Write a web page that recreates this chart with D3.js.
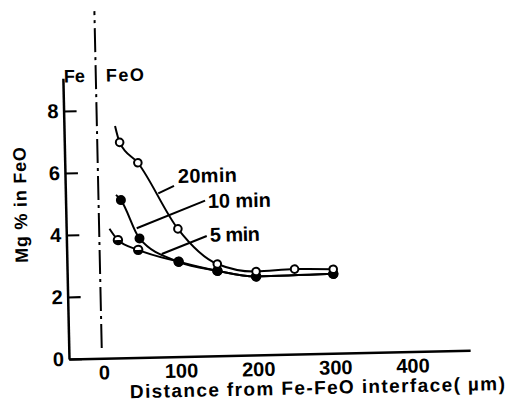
<!DOCTYPE html>
<html><head><meta charset="utf-8">
<script src="https://cdn.jsdelivr.net/npm/d3@7"></script>
<style>body{margin:0;background:#fff}svg{display:block}</style>
</head><body><svg id="c" width="510" height="403"></svg>
<script>
// ---- data ----
const xTicks = [0, 100, 200, 300, 400];
const yTicks = [0, 2, 4, 6, 8];
const dist20 = [27, 50, 100, 150, 200, 250, 300];
const mg20   = [6.95, 6.28, 4.12, 2.96, 2.69, 2.74, 2.71];
const dist10 = [27, 50, 100, 150, 200, 300];
const mg10   = [5.09, 3.84, 3.06, 2.74, 2.53, 2.56];
const dist5  = [22, 48, 100, 150, 200, 300];
const mg5    = [3.80, 3.47, 3.06, 2.74, 2.53, 2.56];
const curveStart20 = [21.5, 7.48];
const curveStart10 = [20.8, 5.26];
const curveStart5  = [11.4, 4.17];
const seriesLabels = ["20min", "10 min", "5 min"];
const xTitle = "Distance from Fe-FeO interface( µm)";
const yTitle = "Mg % in FeO";
const phaseLabels = ["Fe", "FeO"];
const xDomain = [-44.7, 475];
const yDomain = [0, 9.06];
const interfaceX = -2;
const interfaceY = [0.33, 11.2];

// ---- layout ----
const FONT = "'Liberation Sans', Arial, sans-serif";
const svg = d3.select("#c");
svg.append("rect").attr("width", 510).attr("height", 403).attr("fill", "#fff");
const g = svg.append("g").attr("transform", "translate(69,359) rotate(-1.25)");

const x = d3.scaleLinear().domain(xDomain).range([0, 401.2]);
const y = d3.scaleLinear().domain(yDomain).range([0, -280.9]);

// axes
const xAxis = g.append("g").call(d3.axisBottom(x).tickValues(xTicks).tickSize(0).tickPadding(7).tickFormat(d3.format("d")));
const yAxis = g.append("g").call(d3.axisLeft(y).tickValues(yTicks).tickSizeInner(-13).tickSizeOuter(0).tickPadding(5).tickFormat(d3.format("d")));
[xAxis, yAxis].forEach(a => {
  a.select(".domain").attr("stroke", "#000").attr("stroke-width", 2.5);
  a.selectAll(".tick line").attr("stroke", "#000").attr("stroke-width", 2.2);
  a.selectAll(".tick text").attr("fill", "#000").style("font-family", FONT)
    .style("font-size", "20px").style("font-weight", "bold");
});

// interface dash-dot line
g.append("line")
  .attr("x1", x(interfaceX)).attr("x2", x(interfaceX))
  .attr("y1", y(interfaceY[0])).attr("y2", y(interfaceY[1]))
  .attr("stroke", "#000").attr("stroke-width", 2)
  .attr("stroke-dasharray", "24,5,3,5");

// phase labels
g.append("text").text(phaseLabels[0]).attr("x", x(-16.2)).attr("y", y(8.92))
  .attr("text-anchor", "end").style("font-family", FONT).style("font-size", "18px").style("font-weight", "bold");
g.append("text").text(phaseLabels[1]).attr("x", x(11)).attr("y", y(8.92))
  .attr("textLength", 38).style("font-family", FONT).style("font-size", "18px").style("font-weight", "bold");

// titles
g.append("text").text(xTitle).attr("x", 247.7).attr("y", 40.5).attr("text-anchor", "middle")
  .attr("textLength", 375).style("font-family", FONT).style("font-size", "19px").style("font-weight", "bold");
g.append("text").text(yTitle)
  .attr("transform", "translate(-39,-155) rotate(-90)")
  .attr("text-anchor", "middle").attr("textLength", 116)
  .style("font-family", FONT).style("font-size", "18px").style("font-weight", "bold");

// curves
const line = d3.line().x(d => x(d[0])).y(d => y(d[1])).curve(d3.curveMonotoneX);
const pts = (xs, ys) => xs.map((v, i) => [v, ys[i]]);
const p20 = pts(dist20, mg20), p10 = pts(dist10, mg10), p5 = pts(dist5, mg5);
[[curveStart5, p5], [curveStart10, p10], [curveStart20, p20]].forEach(([s, p]) => {
  g.append("path").attr("d", line([s, ...p])).attr("fill", "none")
    .attr("stroke", "#000").attr("stroke-width", 2);
});

// markers
const halfArc = d3.arc().innerRadius(0).outerRadius(4.2).startAngle(Math.PI / 2).endAngle(3 * Math.PI / 2);
p5.forEach(d => {
  const m = g.append("g").attr("transform", `translate(${x(d[0])},${y(d[1])})`);
  m.append("circle").attr("r", 4.2).attr("fill", "#fff").attr("stroke", "#000").attr("stroke-width", 2);
  m.append("path").attr("d", halfArc()).attr("fill", "#000");
});
g.selectAll(".m10").data(p10).enter().append("circle")
  .attr("cx", d => x(d[0])).attr("cy", d => y(d[1])).attr("r", 5).attr("fill", "#000");
g.selectAll(".m20").data(p20).enter().append("circle")
  .attr("cx", d => x(d[0])).attr("cy", d => y(d[1])).attr("r", 3.8)
  .attr("fill", "#fff").attr("stroke", "#000").attr("stroke-width", 2);

// series labels with leaders
const labelSpecs = [
  {t: seriesLabels[0], tx: 101.5, ty: 5.6, w: 59, l: [[75.6, 5.28], [96.2, 5.51]]},
  {t: seriesLabels[1], tx: 139.6, ty: 4.77, w: 63, l: [[46.7, 4.17], [136, 5.01]]},
  {t: seriesLabels[2], tx: 141.3, ty: 3.68, w: 50, l: [[78.4, 3.32], [137.2, 3.87]]}
];
labelSpecs.forEach(s => {
  g.append("line").attr("x1", x(s.l[0][0])).attr("y1", y(s.l[0][1]))
    .attr("x2", x(s.l[1][0])).attr("y2", y(s.l[1][1]))
    .attr("stroke", "#000").attr("stroke-width", 2);
  g.append("text").text(s.t).attr("x", x(s.tx)).attr("y", y(s.ty)).attr("textLength", s.w)
    .style("font-family", FONT).style("font-size", "20px").style("font-weight", "bold");
});
</script></body></html>
